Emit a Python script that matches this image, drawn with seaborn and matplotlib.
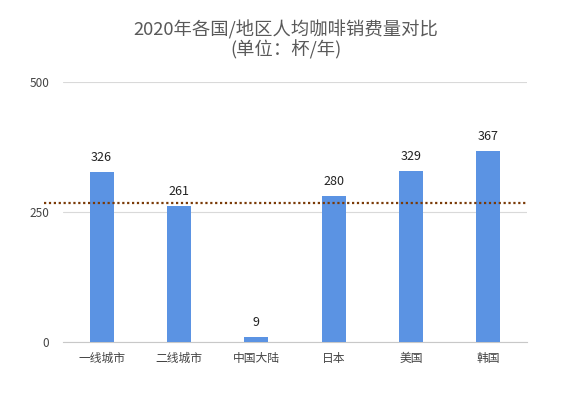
import matplotlib

matplotlib.use("Agg")
import matplotlib.pyplot as plt
import pandas as pd
import seaborn as sns

regions = ["一线城市", "二线城市", "中国大陆", "日本", "美国", "韩国"]
cups = [326, 261, 9, 280, 329, 367]
reference_level = 267
y_ticks = [0, 250, 500]

sns.set_theme(style="white")
plt.rcParams["font.family"] = ["Noto Sans CJK SC", "DejaVu Sans"]

df = pd.DataFrame({"region": regions, "cups": cups})

fig = plt.figure(figsize=(5.83, 3.94), dpi=100)
ax = fig.add_axes([0.108, 0.132, 0.796, 0.66])

sns.barplot(data=df, x="region", y="cups", color="#5B93E3", width=0.31,
            saturation=1, linewidth=0, ax=ax, zorder=3)

ax.set_ylim(0, 500)
ax.set_yticks(y_ticks)
ax.set_yticklabels([str(t) for t in y_ticks], fontsize=8.5, color="#444444")
ax.tick_params(axis="x", labelsize=8.5, colors="#444444", length=0, pad=7)
ax.tick_params(axis="y", length=0, pad=10)
ax.set_xlabel("")
ax.set_ylabel("")
ax.grid(axis="y", color="#d9d9d9", linewidth=0.8, zorder=0)
for side in ["top", "right", "left"]:
    ax.spines[side].set_visible(False)
ax.spines["bottom"].set_color("#c8c8c8")
ax.spines["bottom"].set_linewidth(0.8)

for i, v in enumerate(cups):
    ax.annotate(str(v), (i, v), xytext=(0, 6), textcoords="offset points",
                ha="center", va="bottom", fontsize=9, color="#222222")

ax.axhline(reference_level, xmin=-0.04, xmax=1.0, color="#7a3a08",
           linestyle=(0, (1, 1.2)), linewidth=1.6, clip_on=False, zorder=4)

fig.suptitle("2020年各国/地区人均咖啡销费量对比\n(单位：杯/年)", fontsize=13.2,
             color="#595959", x=0.49, y=0.948, linespacing=1.05)

fig.savefig("out.png", dpi=100)
plt.close(fig)
